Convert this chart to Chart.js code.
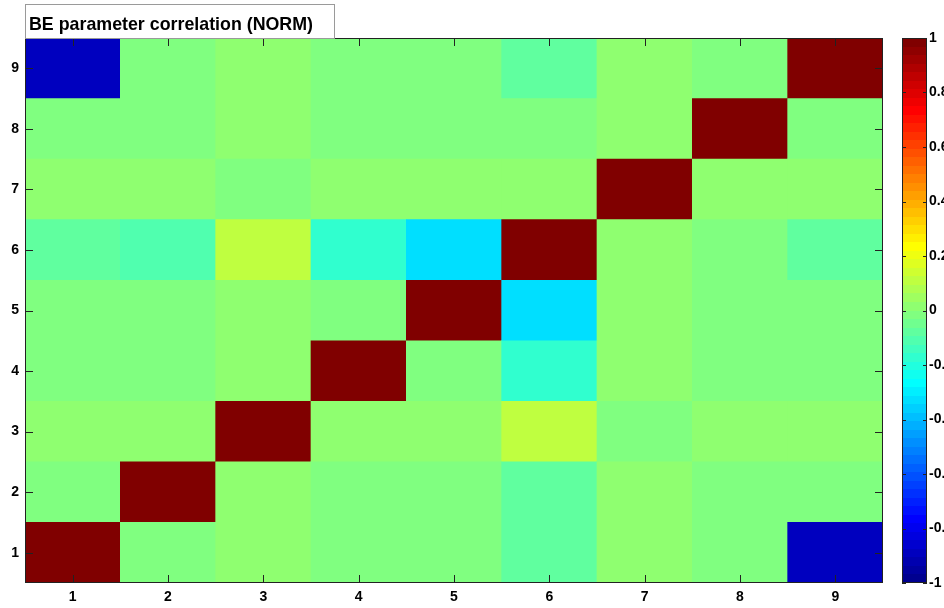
<!DOCTYPE html>
<html>
<head>
<meta charset="utf-8">
<title>BE parameter correlation (NORM)</title>
<script src="https://cdn.jsdelivr.net/npm/chart.js@4.4.1/dist/chart.umd.min.js"></script>
<style>
  html, body { margin: 0; padding: 0; background: #ffffff; }
  #wrap { position: relative; width: 944px; height: 608px; overflow: hidden; background: #ffffff; }
  #heat { position: absolute; left: 0; top: 0; }
  #cbar { position: absolute; left: 890px; top: 0; }
</style>
</head>
<body>
<div id="wrap">
  <canvas id="heat" width="890" height="608"></canvas>
  <canvas id="cbar" width="54" height="608"></canvas>
</div>
<script>
// Parameter indices on both axes
const params = ['1', '2', '3', '4', '5', '6', '7', '8', '9'];
const yTicks = [1, 2, 3, 4, 5, 6, 7, 8, 9];
const colorbarTicks = [1, 0.8, 0.6, 0.4, 0.2, 0, -0.2, -0.4, -0.6, -0.8, -1];
const titleText = 'BE parameter correlation (NORM)';

// Correlation coefficients, one array per parameter row (row 1 at the bottom)
const corrRow1 = [1.00, -0.02, 0.02, -0.02, -0.02, -0.08, 0.02, -0.02, -0.89];
const corrRow2 = [-0.02, 1.00, 0.02, -0.02, -0.02, -0.08, 0.02, -0.02, -0.02];
const corrRow3 = [0.02, 0.02, 1.00, 0.02, 0.02, 0.11, -0.02, 0.02, 0.02];
const corrRow4 = [-0.02, -0.02, 0.02, 1.00, -0.02, -0.17, 0.02, -0.02, -0.02];
const corrRow5 = [-0.02, -0.02, 0.02, -0.02, 1.00, -0.33, 0.02, -0.02, -0.02];
const corrRow6 = [-0.08, -0.11, 0.11, -0.17, -0.33, 1.00, 0.02, -0.02, -0.08];
const corrRow7 = [0.02, 0.02, -0.02, 0.02, 0.02, 0.02, 1.00, 0.02, 0.02];
const corrRow8 = [-0.02, -0.02, 0.02, -0.02, -0.02, -0.02, 0.02, 1.00, -0.02];
const corrRow9 = [-0.89, -0.02, 0.02, -0.02, -0.02, -0.08, 0.02, -0.02, 1.00];
const corrRows = [corrRow1, corrRow2, corrRow3, corrRow4, corrRow5, corrRow6, corrRow7, corrRow8, corrRow9];

const FONT = '"Liberation Sans", Arial, Helvetica, sans-serif';
Chart.defaults.font.family = FONT;
Chart.defaults.color = '#000000';

// 64-level jet colour map over the range [-1, 1]
const clamp01 = t => Math.max(0, Math.min(1, t));
function jetIndex(v) {
  return Math.max(1, Math.min(64, Math.floor((v + 1) / 2 * 64) + 1));
}
function jetColor(k) {
  const x = k / 64;
  const r = clamp01(1.5 - Math.abs(4 * x - 3));
  const g = clamp01(1.5 - Math.abs(4 * x - 2));
  const b = clamp01(1.5 - Math.abs(4 * x - 1));
  return 'rgb(' + Math.round(r * 255) + ',' + Math.round(g * 255) + ',' + Math.round(b * 255) + ')';
}
const colorOf = v => jetColor(jetIndex(v));

// Axes box with inward-pointing ticks on all four sides
const framePlugin = {
  id: 'frame',
  afterDatasetsDraw(chart) {
    const { ctx, chartArea: a, scales } = chart;
    const xs = scales.x, ys = scales.y;
    ctx.save();
    ctx.strokeStyle = '#222222';
    ctx.lineWidth = 1;
    ctx.strokeRect(a.left + 0.5, a.top + 0.5, a.right - a.left - 1, a.bottom - a.top - 1);
    const tl = 8;
    ctx.beginPath();
    xs.ticks.forEach((t, i) => {
      const px = Math.round(xs.getPixelForTick(i)) + 0.5;
      ctx.moveTo(px, a.bottom); ctx.lineTo(px, a.bottom - tl);
      ctx.moveTo(px, a.top); ctx.lineTo(px, a.top + tl);
    });
    ys.ticks.forEach(t => {
      const py = Math.round(ys.getPixelForValue(t.value)) + 0.5;
      ctx.moveTo(a.left, py); ctx.lineTo(a.left + tl, py);
      ctx.moveTo(a.right, py); ctx.lineTo(a.right - tl, py);
    });
    ctx.stroke();
    ctx.restore();
  }
};

// Boxed title sitting on top of the axes, set in a condensed bold face
const titleBoxPlugin = {
  id: 'titleBox',
  afterDraw(chart) {
    const { ctx, chartArea: a } = chart;
    ctx.save();
    const x0 = a.left, y0 = 4, w = 310, h = a.top - y0;
    ctx.fillStyle = '#ffffff';
    ctx.fillRect(x0, y0, w, h);
    ctx.strokeStyle = '#9a9a9a';
    ctx.lineWidth = 1;
    ctx.strokeRect(x0 + 0.5, y0 + 0.5, w - 1, h);
    ctx.fillStyle = '#000000';
    ctx.font = 'bold 19px ' + FONT;
    ctx.textBaseline = 'alphabetic';
    const natural = ctx.measureText(titleText).width;
    const sx = 284 / natural;
    ctx.translate(x0 + 4, 30);
    ctx.scale(sx, 1);
    ctx.fillText(titleText, 0, 0);
    ctx.restore();
  }
};

const tickFont = { size: 14, weight: 'bold' };

const datasets = corrRows.map((row, r) => ({
  label: 'row ' + yTicks[r],
  data: row.map((v, c) => ({ x: params[c], y: [yTicks[r] - 0.5, yTicks[r] + 0.5], v: v })),
  backgroundColor: ctx => colorOf(ctx.raw.v),
  borderWidth: 0,
  borderSkipped: false,
  grouped: false,
  barPercentage: 1,
  categoryPercentage: 1
}));

new Chart(document.getElementById('heat'), {
  type: 'bar',
  data: { labels: params, datasets: datasets },
  options: {
    responsive: false,
    animation: false,
    layout: { padding: { top: 38, right: 7, left: 0, bottom: 0 } },
    plugins: { legend: { display: false }, tooltip: { enabled: false }, title: { display: false } },
    scales: {
      x: {
        type: 'category',
        offset: true,
        grid: { display: false, drawTicks: false },
        border: { display: false },
        ticks: { font: tickFont, color: '#000', padding: 6, maxRotation: 0 },
        afterFit: s => { s.height = 25; }
      },
      y: {
        type: 'linear',
        min: 0.5,
        max: 9.5,
        grid: { display: false, drawTicks: false },
        border: { display: false },
        afterBuildTicks: s => { s.ticks = yTicks.map(v => ({ value: v })); },
        ticks: { font: tickFont, color: '#000', padding: 6, callback: v => String(v) },
        afterFit: s => { s.width = 25; }
      }
    }
  },
  plugins: [framePlugin, titleBoxPlugin]
});

// Colour bar: 64 bands of the jet map laid out on its own value axis
const colorbarPlugin = {
  id: 'colorbarBands',
  beforeDatasetsDraw(chart) {
    const { ctx, chartArea: a, scales } = chart;
    const ys = scales.y;
    ctx.save();
    for (let k = 1; k <= 64; k++) {
      const vLow = -1 + (k - 1) / 32, vHigh = -1 + k / 32;
      const yTop = Math.round(ys.getPixelForValue(vHigh));
      const yBot = Math.round(ys.getPixelForValue(vLow));
      ctx.fillStyle = jetColor(k);
      ctx.fillRect(a.left, yTop, a.right - a.left, yBot - yTop);
    }
    ctx.strokeStyle = '#222222';
    ctx.lineWidth = 1;
    ctx.strokeRect(a.left + 0.5, a.top + 0.5, a.right - a.left - 1, a.bottom - a.top - 1);
    ctx.beginPath();
    ys.ticks.forEach(t => {
      const py = Math.round(ys.getPixelForValue(t.value)) + 0.5;
      ctx.moveTo(a.left, py); ctx.lineTo(a.left + 4, py);
      ctx.moveTo(a.right, py); ctx.lineTo(a.right - 4, py);
    });
    ctx.stroke();
    ctx.restore();
  }
};

new Chart(document.getElementById('cbar'), {
  type: 'bar',
  data: { labels: [''], datasets: [{ data: [] }] },
  options: {
    responsive: false,
    animation: false,
    layout: { padding: { top: 38, right: 0, left: 12, bottom: 25 } },
    plugins: { legend: { display: false }, tooltip: { enabled: false } },
    scales: {
      x: { display: false },
      y: {
        type: 'linear',
        position: 'right',
        min: -1,
        max: 1,
        grid: { display: false, drawTicks: false },
        border: { display: false },
        afterBuildTicks: s => { s.ticks = colorbarTicks.map(v => ({ value: v })); },
        ticks: { font: tickFont, color: '#000', padding: 2, callback: v => String(Math.round(v * 10) / 10) },
        afterFit: s => { s.width = 17; }
      }
    }
  },
  plugins: [colorbarPlugin]
});
</script>
</body>
</html>
